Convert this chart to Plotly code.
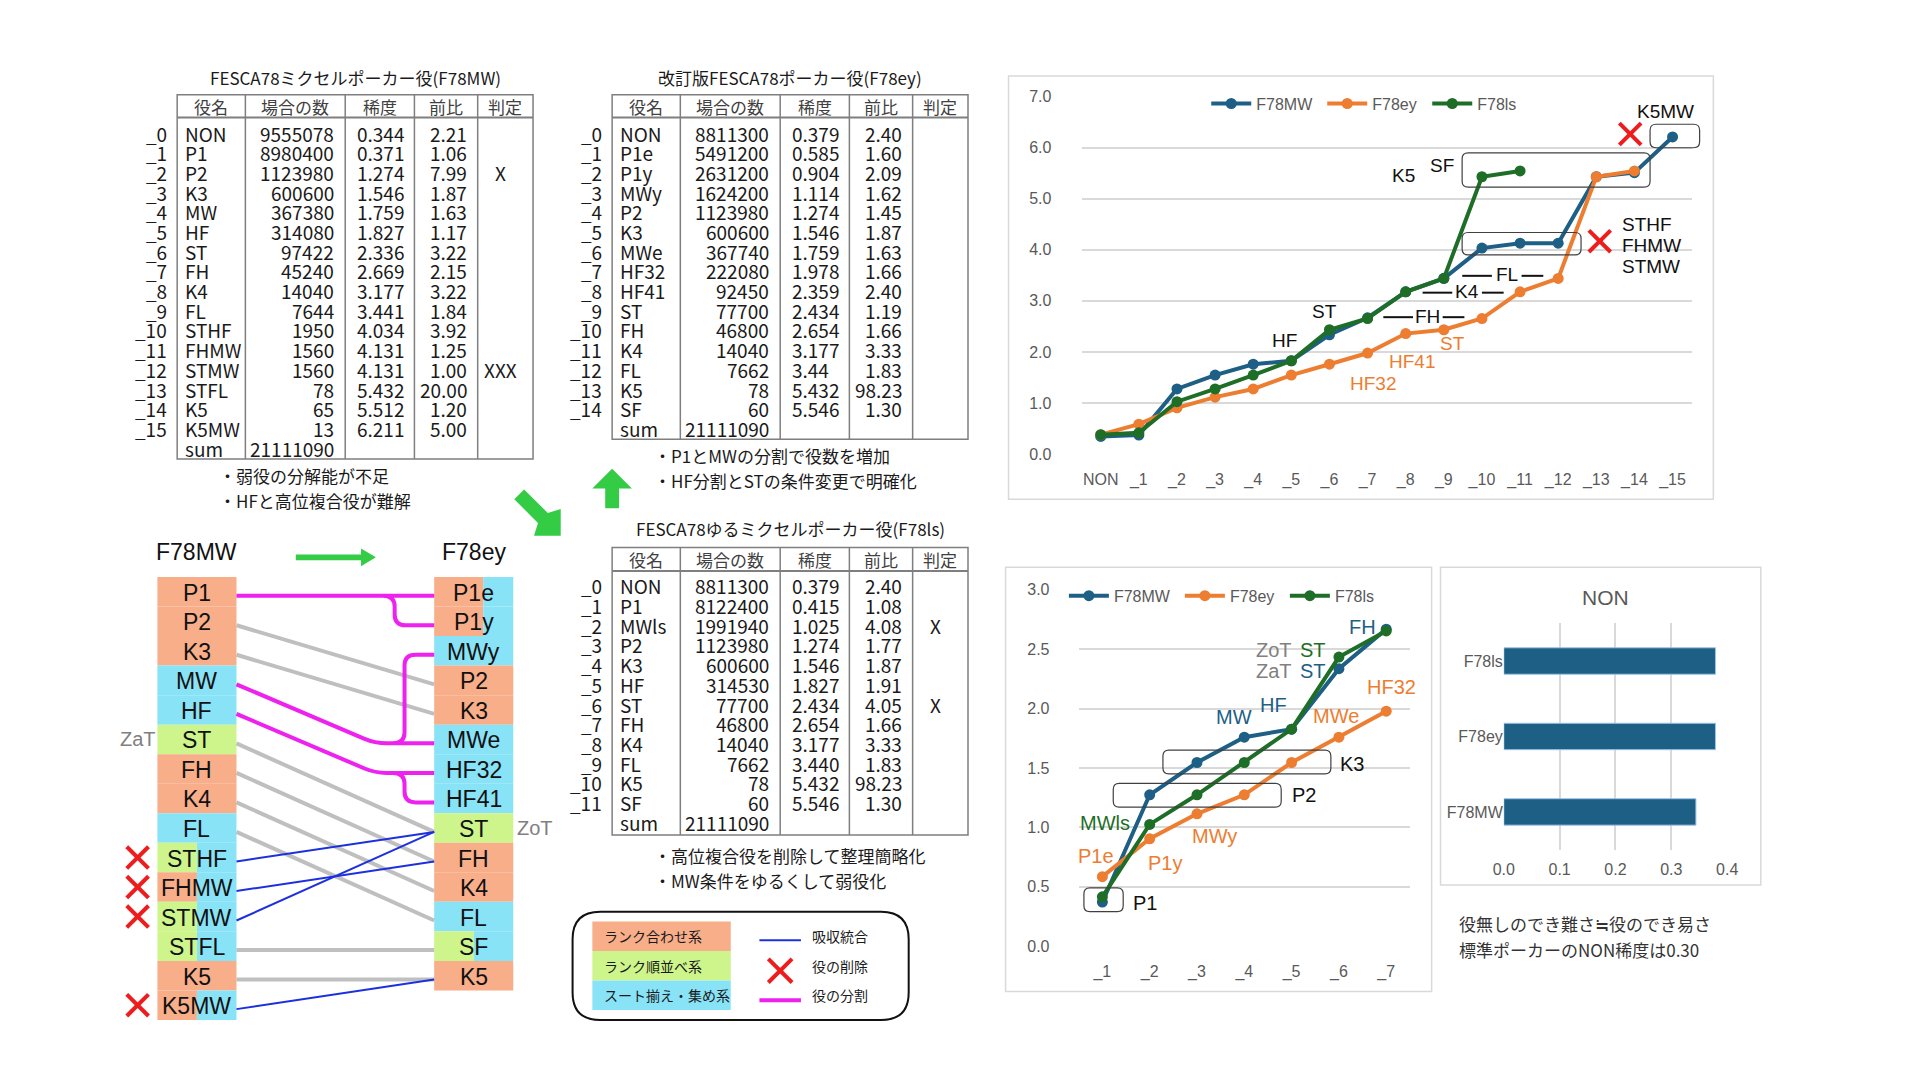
import plotly.graph_objects as go

W, H = 1920, 1080

JP = "Noto Sans CJK JP"
SANS = "Liberation Sans, Arial, sans-serif"

BLUE = "#1D5F85"
ORANGE = "#ED7D31"
GREEN = "#1E6E27"
TICK_GRAY = "#595959"
GRID = "#D9D9D9"
CELL_O = "#F7AE89"
CELL_B = "#88E3F7"
CELL_G = "#CDF58B"
RED = "#EE1C1C"
MAGENTA = "#EE22EE"
LINK_BLUE = "#1C30E0"
LINK_GRAY = "#BFBFBF"
ARROW_GREEN = "#33CC44"
TXT = "#1A1A1A"

# ---------------- table data ----------------
HEADERS = ["役名", "場合の数", "稀度", "前比", "判定"]

T1_TITLE = "FESCA78ミクセルポーカー役(F78MW)"
T1_NAMES = ["NON", "P1", "P2", "K3", "MW", "HF", "ST", "FH", "K4", "FL",
            "STHF", "FHMW", "STMW", "STFL", "K5", "K5MW"]
T1_COUNTS = [9555078, 8980400, 1123980, 600600, 367380, 314080, 97422, 45240,
             14040, 7644, 1950, 1560, 1560, 78, 65, 13]
T1_RARITY = ["0.344", "0.371", "1.274", "1.546", "1.759", "1.827", "2.336", "2.669",
             "3.177", "3.441", "4.034", "4.131", "4.131", "5.432", "5.512", "6.211"]
T1_RATIO = ["2.21", "1.06", "7.99", "1.87", "1.63", "1.17", "3.22", "2.15",
            "3.22", "1.84", "3.92", "1.25", "1.00", "20.00", "1.20", "5.00"]
T1_JUDGE = ["", "", "X", "", "", "", "", "", "", "", "", "", "XXX", "", "", ""]
T1_NOTES = ["・弱役の分解能が不足", "・HFと高位複合役が難解"]

T2_TITLE = "改訂版FESCA78ポーカー役(F78ey)"
T2_NAMES = ["NON", "P1e", "P1y", "MWy", "P2", "K3", "MWe", "HF32", "HF41", "ST",
            "FH", "K4", "FL", "K5", "SF"]
T2_COUNTS = [8811300, 5491200, 2631200, 1624200, 1123980, 600600, 367740, 222080,
             92450, 77700, 46800, 14040, 7662, 78, 60]
T2_RARITY = ["0.379", "0.585", "0.904", "1.114", "1.274", "1.546", "1.759", "1.978",
             "2.359", "2.434", "2.654", "3.177", "3.44", "5.432", "5.546"]
T2_RATIO = ["2.40", "1.60", "2.09", "1.62", "1.45", "1.87", "1.63", "1.66",
            "2.40", "1.19", "1.66", "3.33", "1.83", "98.23", "1.30"]
T2_JUDGE = [""] * 15
T2_NOTES = ["・P1とMWの分割で役数を増加", "・HF分割とSTの条件変更で明確化"]

T3_TITLE = "FESCA78ゆるミクセルポーカー役(F78ls)"
T3_NAMES = ["NON", "P1", "MWls", "P2", "K3", "HF", "ST", "FH", "K4", "FL", "K5", "SF"]
T3_COUNTS = [8811300, 8122400, 1991940, 1123980, 600600, 314530, 77700, 46800,
             14040, 7662, 78, 60]
T3_RARITY = ["0.379", "0.415", "1.025", "1.274", "1.546", "1.827", "2.434", "2.654",
             "3.177", "3.440", "5.432", "5.546"]
T3_RATIO = ["2.40", "1.08", "4.08", "1.77", "1.87", "1.91", "4.05", "1.66",
            "3.33", "1.83", "98.23", "1.30"]
T3_JUDGE = ["", "", "X", "", "", "", "X", "", "", "", "", ""]
T3_NOTES = ["・高位複合役を削除して整理簡略化", "・MW条件をゆるくして弱役化"]

# ---------------- chart data ----------------
SERIES = ["F78MW", "F78ey", "F78ls"]
CHART1_CATS = ["NON", "_1", "_2", "_3", "_4", "_5", "_6", "_7", "_8", "_9",
               "_10", "_11", "_12", "_13", "_14", "_15"]
CHART2_CATS = ["_1", "_2", "_3", "_4", "_5", "_6", "_7"]
NON_CATS = ["F78MW", "F78ey", "F78ls"]
NOTE_NON = ["役無しのでき難さ≒役のでき易さ", "標準ポーカーのNON稀度は0.30"]

# ---------------- mapping diagram data ----------------
LEFT_ROLES = ["P1", "P2", "K3", "MW", "HF", "ST", "FH", "K4", "FL",
              "STHF", "FHMW", "STMW", "STFL", "K5", "K5MW"]
LEFT_KIND = ["o", "o", "o", "b", "b", "g", "o", "o", "b", "gb", "ob", "gb", "gb", "o", "ob"]
RIGHT_ROLES = ["P1e", "P1y", "MWy", "P2", "K3", "MWe", "HF32", "HF41", "ST",
               "FH", "K4", "FL", "SF", "K5"]
RIGHT_KIND = ["ob", "ob", "b", "o", "o", "b", "b", "b", "g", "o", "o", "b", "gb", "o"]
DELETED = ["STHF", "FHMW", "STMW", "K5MW"]
GRAY_LINKS = [("P2", "P2"), ("K3", "K3"), ("ST", "ST"), ("FH", "FH"), ("K4", "K4"),
              ("FL", "FL"), ("STFL", "SF"), ("K5", "K5")]
BLUE_LINKS = [("STHF", "ST"), ("FHMW", "FH"), ("STMW", "ST"), ("K5MW", "K5")]
SPLIT_LINKS = [("P1", "P1e", "P1y"), ("MW", "MWe", "MWy"), ("HF", "HF32", "HF41")]

LEGEND_KINDS = [("ランク合わせ系", CELL_O), ("ランク順並べ系", CELL_G), ("スート揃え・集め系", CELL_B)]
LEGEND_MARKS = ["吸収統合", "役の削除", "役の分割"]

# ---------------- geometry (pixels) ----------------
C1 = dict(x0=1075, x1=1692, y0=82, y1=445, xr=(-0.5, 15.5), yr=(0, 7))
C2 = dict(x0=1072, x1=1407, y0=583, y1=945, xr=(-0.5, 6.5), yr=(0, 3))
C3 = dict(x0=1502, x1=1728, y0=617, y1=847, xr=(0, 0.4), yr=(-0.5, 2.5))


def dom_x(c):
    return [c["x0"] / W, c["x1"] / W]


def dom_y(c):
    return [1 - c["y1"] / H, 1 - c["y0"] / H]


def to_px(c, x, y):
    fx = (x - c["xr"][0]) / (c["xr"][1] - c["xr"][0])
    fy = (y - c["yr"][0]) / (c["yr"][1] - c["yr"][0])
    return c["x0"] + fx * (c["x1"] - c["x0"]), c["y1"] - fy * (c["y1"] - c["y0"])


shapes = []
annots = []


def text(x, y, s, size=19, color=TXT, family=JP, anchor="center"):
    annots.append(dict(x=x, y=y, xref="x4", yref="y4", text=s, showarrow=False,
                       xanchor=anchor, yanchor="middle", borderpad=0,
                       font=dict(family=family, size=size, color=color)))


def ctext(axes, x, y, s, size, color, family, anchor="center"):
    annots.append(dict(x=x, y=y, xref=axes[0], yref=axes[1], text=s, showarrow=False,
                       xanchor=anchor, yanchor="middle", borderpad=0,
                       font=dict(family=family, size=size, color=color)))


def line(x0, y0, x1, y1, color, width):
    shapes.append(dict(type="line", xref="x4", yref="y4", x0=x0, y0=y0, x1=x1, y1=y1,
                       line=dict(color=color, width=width), layer="above"))


def rect(x0, y0, x1, y1, fill=None, color=None, width=0):
    shapes.append(dict(type="rect", xref="x4", yref="y4", x0=x0, y0=y0, x1=x1, y1=y1,
                       fillcolor=fill if fill else "rgba(0,0,0,0)",
                       line=dict(color=color if color else "rgba(0,0,0,0)", width=width),
                       layer="above"))


def path(d, color=None, width=0, fill=None):
    shapes.append(dict(type="path", xref="x4", yref="y4", path=d,
                       fillcolor=fill if fill else "rgba(0,0,0,0)",
                       line=dict(color=color if color else "rgba(0,0,0,0)", width=width),
                       layer="above"))


def rounded(x0, y0, x1, y1, r):
    return (f"M {x0 + r} {y0} L {x1 - r} {y0} Q {x1} {y0} {x1} {y0 + r} "
            f"L {x1} {y1 - r} Q {x1} {y1} {x1 - r} {y1} L {x0 + r} {y1} "
            f"Q {x0} {y1} {x0} {y1 - r} L {x0} {y0 + r} Q {x0} {y0} {x0 + r} {y0} Z")


def red_x(cx, cy, hw, hh, width=4):
    line(cx - hw, cy - hh, cx + hw, cy + hh, RED, width)
    line(cx - hw, cy + hh, cx + hw, cy - hh, RED, width)


# ---------------- tables ----------------
COL_SEPS = [69, 170, 240, 304]
TABLE_W = 360
TABLE_LINE = "#7F7F7F"


def draw_table(x0, title_y, top, head_y, first_y, row_h, bottom,
               title, names, counts, rarity, ratio, judge, notes, note_y):
    text(x0 + 180, title_y, title, size=17)
    rect(x0, top, x0 + TABLE_W, bottom, color=TABLE_LINE, width=1.5)
    line(x0, head_y, x0 + TABLE_W, head_y, TABLE_LINE, 2)
    for s in COL_SEPS:
        line(x0 + s, top, x0 + s, bottom, TABLE_LINE, 1.5)
    edges = [0] + COL_SEPS + [TABLE_W]
    for h, a, b in zip(HEADERS, edges[:-1], edges[1:]):
        text(x0 + (a + b) / 2, (top + head_y) / 2, h, size=17, color="#404040")
    for i in range(len(names)):
        y = first_y + i * row_h
        text(x0 - 9, y, f"_{i}", anchor="right")
        text(x0 + 7, y, names[i], anchor="left")
        text(x0 + 160, y, str(counts[i]), anchor="right")
        text(x0 + 181, y, rarity[i], anchor="left")
        text(x0 + 294, y, ratio[i], anchor="right")
        if judge[i]:
            text(x0 + 327, y, judge[i])
    y = first_y + len(names) * row_h
    text(x0 + 7, y, "sum", anchor="left")
    text(x0 + 160, y, str(sum(counts)), anchor="right")
    for k, n in enumerate(notes):
        text(x0 + 41, note_y + k * 25, n, size=17, anchor="left")


draw_table(160, 62, 80, 103, 119, 20, 450, T1_TITLE, T1_NAMES, T1_COUNTS,
           T1_RARITY, T1_RATIO, T1_JUDGE, T1_NOTES, 467)
draw_table(600, 62, 80, 103, 119, 20, 430, T2_TITLE, T2_NAMES, T2_COUNTS,
           T2_RARITY, T2_RATIO, T2_JUDGE, T2_NOTES, 447)
draw_table(600, 521, 540, 564, 579, 20, 832, T3_TITLE, T3_NAMES, T3_COUNTS,
           T3_RARITY, T3_RATIO, T3_JUDGE, T3_NOTES, 853)

# ---------------- green arrows ----------------
path("M 593 500 L 593 480 L 580 480 L 600 460 L 620 480 L 607 480 L 607 500 Z", fill=ARROW_GREEN)
path("M 501 491 L 511 481 L 535 505 L 548 501 L 548 528 L 521 528 L 525 515 Z", fill=ARROW_GREEN)
path("M 280 547 L 346 547 L 346 541 L 361 550 L 346 559 L 346 553 L 280 553 Z", fill=ARROW_GREEN)

# ---------------- mapping diagram ----------------
MAP_TOP, ROW = 570, 30
LX0, LX1, RX0, RX1 = 140, 220, 420, 500
KIND_COLOR = {"o": CELL_O, "b": CELL_B, "g": CELL_G}
RIGHT_SPLIT = {"ob": 0.62, "gb": 0.5}


def row_y(i):
    return MAP_TOP + ROW * i + ROW / 2


def draw_cells(x0, x1, roles, kinds, split):
    for i, (r, k) in enumerate(zip(roles, kinds)):
        y0 = MAP_TOP + ROW * i
        if len(k) == 1:
            rect(x0, y0, x1, y0 + ROW, fill=KIND_COLOR[k])
        else:
            xm = x0 + (x1 - x0) * split[k]
            rect(x0, y0, xm, y0 + ROW, fill=KIND_COLOR[k[0]])
            rect(xm, y0, x1, y0 + ROW, fill=KIND_COLOR[k[1]])
        text((x0 + x1) / 2, row_y(i) + 1, r, size=23, color="#111111", family=SANS)


draw_cells(LX0, LX1, LEFT_ROLES, LEFT_KIND, {"gb": 0.5, "ob": 0.5})
draw_cells(RX0, RX1, RIGHT_ROLES, RIGHT_KIND, RIGHT_SPLIT)
text(180, 545, "F78MW", size=23, color="#111111", family=SANS)
text(460, 545, "F78ey", size=23, color="#111111", family=SANS)
text(120, row_y(LEFT_ROLES.index("ST")), "ZaT", size=20, color="#808080", family=SANS)
text(522, row_y(RIGHT_ROLES.index("ST")), "ZoT", size=20, color="#808080", family=SANS)

OFF = 4
for a, b in GRAY_LINKS:
    line(LX1, row_y(LEFT_ROLES.index(a)) + OFF, RX0, row_y(RIGHT_ROLES.index(b)) + OFF, LINK_GRAY, 4)
for a, b in BLUE_LINKS:
    line(LX1, row_y(LEFT_ROLES.index(a)) + OFF, RX0, row_y(RIGHT_ROLES.index(b)) + OFF, LINK_BLUE, 2)
for a, m, br in SPLIT_LINKS:
    yl = row_y(LEFT_ROLES.index(a)) + OFF
    ym = row_y(RIGHT_ROLES.index(m)) + OFF
    yb = row_y(RIGHT_ROLES.index(br)) + OFF
    if yl == ym:
        d = f"M {LX1} {yl} L {RX0} {ym}"
        bx = 380
    else:
        dx, dy = 360 - LX1, ym - yl
        ln = (dx * dx + dy * dy) ** 0.5
        d = (f"M {LX1} {yl} L {360 - 12 * dx / ln} {ym - 12 * dy / ln} "
             f"Q 360 {ym} 372 {ym} L {RX0} {ym}")
        bx = 390
    sg = 1 if yb > ym else -1
    d += (f" M {bx - 12} {ym} Q {bx} {ym} {bx} {ym + sg * 11} L {bx} {yb - sg * 11} "
          f"Q {bx} {yb} {bx + 11} {yb} L {RX0} {yb}")
    path(d, color=MAGENTA, width=4)
for r in DELETED:
    red_x(120, row_y(LEFT_ROLES.index(r)), 11, 11)

# ---------------- legend box ----------------
path(rounded(560, 910, 900, 1020, 28), color="#111111", width=2)
for k, (lab, col) in enumerate(LEGEND_KINDS):
    rect(580, 920 + 30 * k, 720, 950 + 30 * k, fill=col)
    text(591, 935 + 30 * k, lab, size=14, anchor="left")
line(749, 939, 791, 939, LINK_BLUE, 2)
red_x(770, 970, 12, 12)
line(749, 1000, 791, 1000, MAGENTA, 4)
for k, lab in enumerate(LEGEND_MARKS):
    text(801, 935 + 30 * k, lab, size=14, anchor="left")

# ---------------- chart frames & notes ----------------
rect(1001, 61, 1714, 491, color=GRID, width=1.5)
rect(998, 560, 1429, 991, color=GRID, width=1.5)
rect(1438, 560, 1762, 883, color=GRID, width=1.5)
for k, n in enumerate(NOTE_NON):
    text(1456, 922 + 26 * k, n, size=17, color="#333333", anchor="left")
text(1605, 591, "NON", size=21, color=TICK_GRAY, family=SANS)

# ---------------- traces ----------------
fig = go.Figure()
vals_all = [[float(v) for v in T1_RARITY], [float(v) for v in T2_RARITY],
            [float(v) for v in T3_RARITY]]
colors = [BLUE, ORANGE, GREEN]
leg_w = [61, 50, 45]
for name, vals, col, lw in zip(SERIES, vals_all, colors, leg_w):
    fig.add_trace(go.Scatter(x=CHART1_CATS[:len(vals)], y=vals, name=name,
                             mode="lines+markers", line=dict(color=col, width=4),
                             marker=dict(size=11, color=col), xaxis="x", yaxis="y",
                             legend="legend", legendwidth=lw))
for name, vals, col, lw in zip(SERIES, vals_all, colors, leg_w):
    fig.add_trace(go.Scatter(x=CHART2_CATS, y=vals[1:1 + len(CHART2_CATS)], name=name,
                             mode="lines+markers", line=dict(color=col, width=4),
                             marker=dict(size=11, color=col), xaxis="x2", yaxis="y2",
                             legend="legend2", legendwidth=lw))
fig.add_trace(go.Bar(y=NON_CATS, x=[v[0] for v in vals_all], orientation="h",
                     marker=dict(color=BLUE, line=dict(color="#9DC3E6", width=1)),
                     xaxis="x3", yaxis="y3", showlegend=False))
fig.add_trace(go.Scatter(x=[], y=[], xaxis="x4", yaxis="y4", showlegend=False))

# ---------------- chart annotations ----------------
A1 = ("x", "y")
for s, x, y, col, anc in [
    ("K5MW", 14.82, 6.71, "#111111", "center"),
    ("SF", 8.94, 5.65, "#111111", "center"),
    ("K5", 7.93, 5.46, "#111111", "center"),
    ("STHF", 13.66, 4.49, "#111111", "left"),
    ("FHMW", 13.66, 4.09, "#111111", "left"),
    ("STMW", 13.66, 3.68, "#111111", "left"),
    ("ST", 5.86, 2.80, "#111111", "center"),
    ("HF", 4.82, 2.22, "#111111", "center"),
    ("ST", 9.23, 2.16, ORANGE, "center"),
    ("HF41", 8.16, 1.81, ORANGE, "center"),
    ("HF32", 7.15, 1.39, ORANGE, "center"),
]:
    ctext(A1, x, y, s, 19, col, SANS, anc)
# labels flanked by short dashes (FL, K4, FH)
for s, x, y in [("FL", 10.65, 3.51), ("K4", 9.61, 3.18), ("FH", 8.58, 2.70)]:
    ctext(A1, x, y, s, 19, "#111111", SANS)
    cx, cy = to_px(C1, x, y)
    line(cx - 45, cy + 1, cx - 15, cy + 1, "#111111", 2)
    line(cx + 15, cy + 1, cx + 37, cy + 1, "#111111", 2)
for bx0, bx1, by0, by1 in [(14.41, 15.71, 6.0, 6.46), (9.48, 14.41, 5.23, 5.90),
                           (9.48, 12.60, 3.90, 4.34)]:
    p0 = to_px(C1, bx0, by1)
    p1 = to_px(C1, bx1, by0)
    path(rounded(p0[0], p0[1], p1[0], p1[1], 6), color="#404040", width=1.2)
for cx, cy in [(13.89, 6.27), (13.09, 4.17)]:
    p = to_px(C1, cx, cy)
    red_x(p[0], p[1], 11, 11, 4)

A2 = ("x2", "y2")
for s, x, y, col, anc in [
    ("FH", 5.49, 2.69, BLUE, "center"),
    ("ZoT", 3.62, 2.49, "#808080", "center"),
    ("ST", 4.45, 2.49, GREEN, "center"),
    ("ZaT", 3.62, 2.32, "#808080", "center"),
    ("ST", 4.45, 2.32, BLUE, "center"),
    ("HF32", 6.12, 2.18, ORANGE, "center"),
    ("HF", 3.62, 2.03, BLUE, "center"),
    ("MW", 2.78, 1.93, BLUE, "center"),
    ("MWe", 4.93, 1.94, ORANGE, "center"),
    ("K3", 5.01, 1.53, "#111111", "left"),
    ("P2", 3.99, 1.27, "#111111", "left"),
    ("MWls", 0.06, 1.04, GREEN, "center"),
    ("MWy", 2.36, 0.93, ORANGE, "center"),
    ("P1e", -0.14, 0.76, ORANGE, "center"),
    ("P1y", 1.32, 0.70, ORANGE, "center"),
    ("P1", 0.63, 0.36, "#111111", "left"),
]:
    ctext(A2, x, y, s, 20, col, SANS, anc)
for bx0, bx1, by0, by1 in [(1.28, 4.83, 1.45, 1.65), (0.23, 3.78, 1.17, 1.37),
                           (-0.39, 0.44, 0.29, 0.49)]:
    p0 = to_px(C2, bx0, by1)
    p1 = to_px(C2, bx1, by0)
    path(rounded(p0[0], p0[1], p1[0], p1[1], 6), color="#404040", width=1.2)

# ---------------- layout ----------------
tickf = dict(family=SANS, size=16, color=TICK_GRAY)
hidden_tick = dict(ticks="outside", tickcolor="rgba(0,0,0,0)")
fig.update_layout(
    width=W, height=H, autosize=False,
    margin=dict(l=0, r=0, t=0, b=0),
    paper_bgcolor="white", plot_bgcolor="rgba(0,0,0,0)",
    bargap=0.65,
    xaxis=dict(domain=dom_x(C1), anchor="y", type="category", categoryarray=CHART1_CATS,
               range=list(C1["xr"]), showgrid=False, zeroline=False, showline=False,
               tickfont=tickf, tickangle=0, ticklen=11, **hidden_tick),
    yaxis=dict(domain=dom_y(C1), anchor="x", range=list(C1["yr"]), dtick=1, tickformat=".1f",
               gridcolor=GRID, gridwidth=1.5, zeroline=False, showline=False,
               tickfont=tickf, ticklen=26, **hidden_tick),
    xaxis2=dict(domain=dom_x(C2), anchor="y2", type="category", categoryarray=CHART2_CATS,
                range=list(C2["xr"]), showgrid=False, zeroline=False, showline=False,
                tickfont=tickf, tickangle=0, ticklen=11, **hidden_tick),
    yaxis2=dict(domain=dom_y(C2), anchor="x2", range=list(C2["yr"]), dtick=0.5,
                tickformat=".1f", gridcolor=GRID, gridwidth=1.5, zeroline=False,
                showline=False, tickfont=tickf, ticklen=25, **hidden_tick),
    xaxis3=dict(domain=dom_x(C3), anchor="y3", range=list(C3["xr"]), dtick=0.1,
                tickformat=".1f", gridcolor=GRID, gridwidth=1.5, zeroline=False,
                showline=False, tickfont=tickf, ticklen=5, **hidden_tick),
    yaxis3=dict(domain=dom_y(C3), anchor="x3", type="category", categoryarray=NON_CATS,
                range=list(C3["yr"]), showgrid=False, zeroline=False, showline=False,
                tickfont=tickf),
    xaxis4=dict(domain=[0, 1], anchor="y4", range=[0, W], visible=False, fixedrange=True),
    yaxis4=dict(domain=[0, 1], anchor="x4", range=[H, 0], visible=False, fixedrange=True),
    legend=dict(orientation="h", x=1201 / W, y=1 - 89 / H, xanchor="left", yanchor="middle",
                font=tickf, itemwidth=40, bgcolor="rgba(0,0,0,0)"),
    legend2=dict(orientation="h", x=1057 / W, y=1 - 589 / H, xanchor="left", yanchor="middle",
                 font=tickf, itemwidth=40, bgcolor="rgba(0,0,0,0)"),
    shapes=shapes,
    annotations=annots,
)

fig.write_html("out.html")
